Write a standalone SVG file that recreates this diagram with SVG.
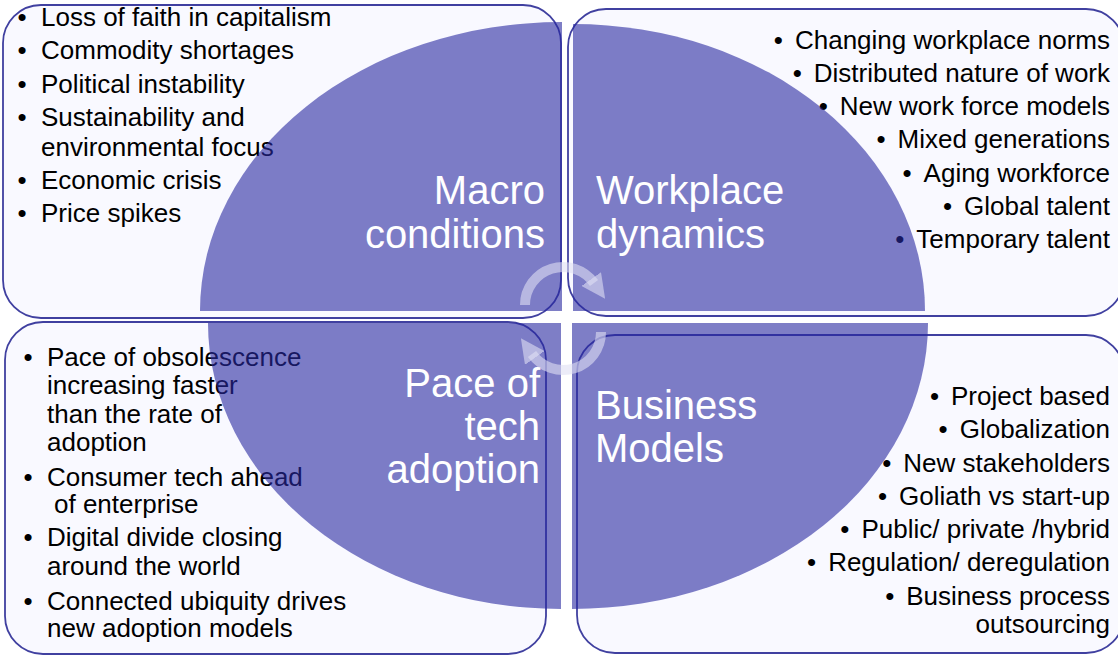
<svg xmlns="http://www.w3.org/2000/svg" width="1118" height="656" viewBox="0 0 1118 656">
<style>
.box{fill:#F9F9FF;stroke:#4040A0;stroke-width:1.8}
.q{fill:#2828A0;fill-opacity:0.6}
.li{font-family:"Liberation Sans",Arial,sans-serif;font-size:26px;fill:#000}
.lab{font-family:"Liberation Sans",Arial,sans-serif;font-size:40px;fill:#fff}
.r{text-anchor:end}
.cyc{fill:none;stroke:#E0E0F4;stroke-opacity:0.6;stroke-width:10}
</style>
<defs>
<marker id="ah" viewBox="0 0 10 10" refX="2" refY="5" markerWidth="2.4" markerHeight="2.4" orient="auto" markerUnits="strokeWidth">
<path d="M0,0 L10,5 L0,10 Z" fill="#E0E0F4" fill-opacity="0.6"/>
</marker>
</defs>
<rect width="1118" height="656" fill="#fff"/>
<g id="box-macro"><rect class="box" x="3" y="5" width="558" height="313" rx="38"/></g>
<g id="box-workplace"><rect class="box" x="568" y="9" width="556" height="307" rx="38"/></g>
<g id="box-tech"><rect class="box" x="5" y="322" width="541" height="332" rx="38"/></g>
<g id="box-business"><rect class="box" x="577" y="335" width="547" height="318" rx="38"/></g>

<g id="list-macro" class="li">
<text x="17.5" y="26">•<tspan x="41">Loss of faith in capitalism</tspan></text>
<text x="17.5" y="59">•<tspan x="41">Commodity shortages</tspan></text>
<text x="17.5" y="93">•<tspan x="41">Political instability</tspan></text>
<text x="17.5" y="126">•<tspan x="41">Sustainability and</tspan></text>
<text x="41" y="156">environmental focus</text>
<text x="17.5" y="189">•<tspan x="41">Economic crisis</tspan></text>
<text x="17.5" y="222">•<tspan x="41">Price spikes</tspan></text>
</g>
<g id="list-workplace" class="li r">
<text x="1110" y="49">•<tspan dx="12">Changing workplace norms</tspan></text>
<text x="1110" y="82">•<tspan dx="12">Distributed nature of work</tspan></text>
<text x="1110" y="115">•<tspan dx="12">New work force models</tspan></text>
<text x="1110" y="148">•<tspan dx="12">Mixed generations</tspan></text>
<text x="1110" y="182">•<tspan dx="12">Aging workforce</tspan></text>
<text x="1110" y="215">•<tspan dx="12">Global talent</tspan></text>
<text x="1110" y="248">•<tspan dx="12">Temporary talent</tspan></text>
</g>
<g id="list-tech" class="li">
<text x="23.5" y="366">•<tspan x="47">Pace of obsolescence</tspan></text>
<text x="47" y="394">increasing faster</text>
<text x="47" y="423">than the rate of</text>
<text x="47" y="451">adoption</text>
<text x="23.5" y="486">•<tspan x="47">Consumer tech ahead</tspan></text>
<text x="54" y="513">of enterprise</text>
<text x="23.5" y="546">•<tspan x="47">Digital divide closing</tspan></text>
<text x="47" y="575">around the world</text>
<text x="23.5" y="610">•<tspan x="47">Connected ubiquity drives</tspan></text>
<text x="47" y="637">new adoption models</text>
</g>
<g id="list-business" class="li r">
<text x="1110" y="405">•<tspan dx="12">Project based</tspan></text>
<text x="1110" y="438">•<tspan dx="12">Globalization</tspan></text>
<text x="1110" y="472">•<tspan dx="12">New stakeholders</tspan></text>
<text x="1110" y="505">•<tspan dx="12">Goliath vs start-up</tspan></text>
<text x="1110" y="538">•<tspan dx="12">Public/ private /hybrid</tspan></text>
<text x="1110" y="571">•<tspan dx="12">Regulation/ deregulation</tspan></text>
<text x="1110" y="605">•<tspan dx="12">Business process</tspan></text>
<text x="1110" y="633">outsourcing</text>
</g>

<g id="node-macro">
<path class="q" d="M562,311 L200,311 A362,289 0 0 1 562,22 Z"/>
<text class="lab r" x="545" y="204">Macro</text>
<text class="lab r" x="545" y="248">conditions</text>
</g>
<g id="node-workplace">
<path class="q" d="M573,311 L573,24 A352,287 0 0 1 925,311 Z"/>
<text class="lab" x="596" y="204">Workplace</text>
<text class="lab" x="596" y="248">dynamics</text>
</g>
<g id="node-tech">
<path class="q" d="M561,323 L208,323 A353,286 0 0 0 561,609 Z"/>
<text class="lab r" x="540" y="397">Pace of</text>
<text class="lab r" x="540" y="440">tech</text>
<text class="lab r" x="540" y="483">adoption</text>
</g>
<g id="node-business">
<path class="q" d="M572,323 L928,323 A356,286 0 0 1 572,609 Z"/>
<text class="lab" x="595" y="419">Business</text>
<text class="lab" x="595" y="462">Models</text>
</g>

<g id="connectors">
<path class="cyc" d="M525,305 A38,38 0 0 1 594,283" marker-end="url(#ah)"/>
<path class="cyc" d="M601,332 A38,38 0 0 1 532,354" marker-end="url(#ah)"/>
</g>
</svg>
